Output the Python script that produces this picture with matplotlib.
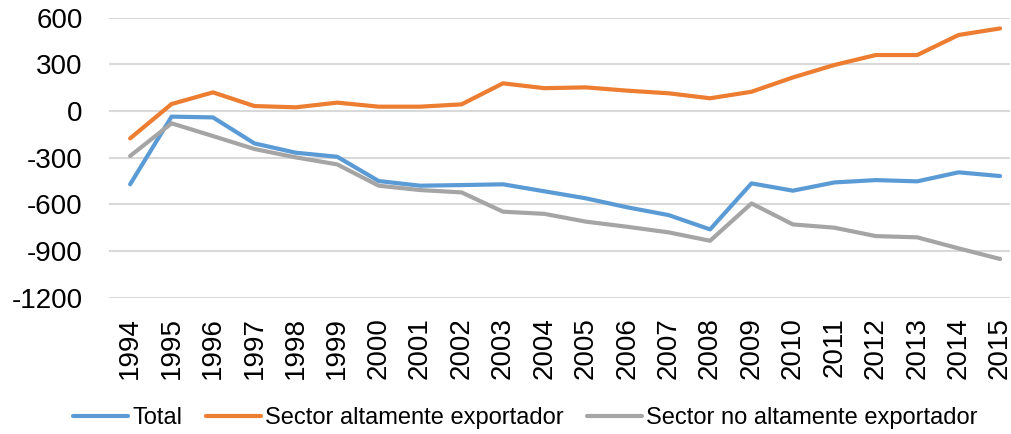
import matplotlib
matplotlib.use("Agg")
import matplotlib.pyplot as plt

years = list(range(1994, 2016))
total = [-471, -36, -41, -208, -268, -294, -450, -480, -476, -471, -516,
         -561, -619, -669, -761, -465, -512, -459, -444, -452, -394, -418]
alto = [-176, 45, 120, 32, 24, 54, 28, 28, 43, 178, 147,
        152, 131, 114, 82, 124, 216, 296, 360, 360, 489, 531]
no_alto = [-289, -79, -161, -244, -298, -343, -480, -508, -523, -647, -661,
           -711, -744, -780, -834, -594, -729, -750, -804, -812, -883, -951]
yticks = [600, 300, 0, -300, -600, -900, -1200]

plt.rcParams['font.family'] = ['Liberation Sans', 'DejaVu Sans']

fig = plt.figure(figsize=(10.12, 4.34), dpi=100)
ax = fig.add_axes([109/1012, 1 - 297.7/434, (1010-109)/1012, (297.7-17.7)/434])

kw = dict(lw=3, solid_capstyle='round', solid_joinstyle='round')
ax.plot(years, total, color='#5B9BD5', label='Total', **kw)
ax.plot(years, alto, color='#ED7D31', label='Sector altamente exportador', **kw)
ax.plot(years, no_alto, color='#A5A5A5', label='Sector no altamente exportador', **kw)

ax.set_ylim(-1200, 600)
ax.set_xlim(1993.49, 2015.24)
ax.set_yticks(yticks)
ax.set_yticklabels([str(v) for v in yticks], fontsize=20)
ax.set_xticks(years)
ax.set_xticklabels([str(y) for y in years], rotation=90, fontsize=20)
ax.tick_params(length=0)
ax.tick_params(axis='x', pad=14)
ax.tick_params(axis='y', pad=19)
ax.grid(axis='y', color='#D9D9D9', lw=1.5)
ax.set_axisbelow(True)
for s in ax.spines.values():
    s.set_visible(False)

fig.legend(loc='center', bbox_to_anchor=(0.519, 1 - 418/434), ncol=3, frameon=False,
           fontsize=17, handlelength=2.33, handletextpad=0.17, columnspacing=1.0)

fig.savefig('out.png', dpi=100)
